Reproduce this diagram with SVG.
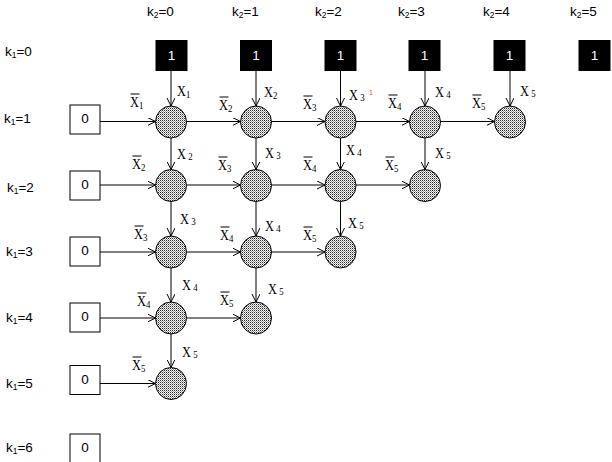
<svg xmlns="http://www.w3.org/2000/svg" width="612" height="462" viewBox="0 0 612 462">
<style>
.k{font-family:"Liberation Sans",Arial,sans-serif;font-size:13.5px;fill:#000}
.ks{font-size:8.5px}
.bx{fill:#fff;stroke:#000;stroke-width:1}
.bk{fill:#000;stroke:#000;stroke-width:1}
.t0{font-family:"Liberation Sans",Arial,sans-serif;font-size:13.5px;fill:#000;text-anchor:middle}
.t1{font-family:"Liberation Sans",Arial,sans-serif;font-size:13.5px;fill:#fff;text-anchor:middle}
.nd{fill:url(#dots);stroke:#000;stroke-width:1}
.ed{stroke:#000;stroke-width:1;fill:none;marker-end:url(#ah)}
.lb{font-family:"Liberation Serif","Times New Roman",serif;font-size:15.5px;fill:#000}
.sb{font-size:11px}
.bar{stroke:#000;stroke-width:1}
.red{font-family:"Liberation Sans",Arial,sans-serif;font-size:7px;fill:#e05050}
</style>
<defs>
<pattern id="dots" width="2" height="2" patternUnits="userSpaceOnUse">
<rect width="2" height="2" fill="#fff"/>
<rect width="1" height="1" fill="#222"/>
<rect x="1" y="1" width="1" height="1" fill="#999"/>
</pattern>
<marker id="ah" markerWidth="10" markerHeight="10" refX="8" refY="4" orient="auto" markerUnits="userSpaceOnUse">
<path d="M0,0 L8,4 L0,8" fill="none" stroke="#000" stroke-width="1"/>
</marker>
</defs>
<rect width="612" height="462" fill="#fff"/>

<g id="axis-labels">
<text class="k" x="147" y="16">k<tspan class="ks" dy="2">2</tspan><tspan dy="-2">=0</tspan></text>
<text class="k" x="232" y="16">k<tspan class="ks" dy="2">2</tspan><tspan dy="-2">=1</tspan></text>
<text class="k" x="315" y="16">k<tspan class="ks" dy="2">2</tspan><tspan dy="-2">=2</tspan></text>
<text class="k" x="398" y="16">k<tspan class="ks" dy="2">2</tspan><tspan dy="-2">=3</tspan></text>
<text class="k" x="483" y="16">k<tspan class="ks" dy="2">2</tspan><tspan dy="-2">=4</tspan></text>
<text class="k" x="570" y="16">k<tspan class="ks" dy="2">2</tspan><tspan dy="-2">=5</tspan></text>
<text class="k" x="5" y="56">k<tspan class="ks" dy="2">1</tspan><tspan dy="-2">=0</tspan></text>
<text class="k" x="4" y="123">k<tspan class="ks" dy="2">1</tspan><tspan dy="-2">=1</tspan></text>
<text class="k" x="7" y="192">k<tspan class="ks" dy="2">1</tspan><tspan dy="-2">=2</tspan></text>
<text class="k" x="6" y="256">k<tspan class="ks" dy="2">1</tspan><tspan dy="-2">=3</tspan></text>
<text class="k" x="6" y="322">k<tspan class="ks" dy="2">1</tspan><tspan dy="-2">=4</tspan></text>
<text class="k" x="6" y="388">k<tspan class="ks" dy="2">1</tspan><tspan dy="-2">=5</tspan></text>
<text class="k" x="6" y="452">k<tspan class="ks" dy="2">1</tspan><tspan dy="-2">=6</tspan></text>
</g>

<g id="src-0"><rect class="bk" x="156" y="40.5" width="31" height="30"/><text class="t1" x="171.5" y="60">1</text></g>
<g id="src-1"><rect class="bk" x="240.5" y="40.5" width="31" height="30"/><text class="t1" x="256" y="60">1</text></g>
<g id="src-2"><rect class="bk" x="325" y="40.5" width="31" height="30"/><text class="t1" x="340.5" y="60">1</text></g>
<g id="src-3"><rect class="bk" x="409" y="40.5" width="31" height="30"/><text class="t1" x="424.5" y="60">1</text></g>
<g id="src-4"><rect class="bk" x="494" y="40.5" width="31" height="30"/><text class="t1" x="509.5" y="60">1</text></g>
<g id="src-5"><rect class="bk" x="579" y="40.5" width="31" height="30"/><text class="t1" x="594.5" y="60">1</text></g>

<g id="zero-1"><rect class="bx" x="70" y="105" width="30" height="29"/><text class="t0" x="85" y="123">0</text></g>
<g id="zero-2"><rect class="bx" x="70" y="171" width="30" height="29"/><text class="t0" x="85" y="189">0</text></g>
<g id="zero-3"><rect class="bx" x="70" y="237" width="30" height="29"/><text class="t0" x="85" y="255">0</text></g>
<g id="zero-4"><rect class="bx" x="70" y="303" width="30" height="29"/><text class="t0" x="85" y="321">0</text></g>
<g id="zero-5"><rect class="bx" x="70" y="365.5" width="30" height="29"/><text class="t0" x="85" y="383.5">0</text></g>
<g id="zero-6"><rect class="bx" x="70" y="434" width="30" height="29"/><text class="t0" x="85" y="452">0</text></g>

<g id="connectors">
<path class="ed" d="M171,70.5 V106"/>
<path class="ed" d="M256,70.5 V106"/>
<path class="ed" d="M340.5,70.5 V106"/>
<path class="ed" d="M425,70.5 V106"/>
<path class="ed" d="M510,70.5 V106"/>
<path class="ed" d="M100,121.5 H155.5"/>
<path class="ed" d="M186.5,121.5 H240.5"/>
<path class="ed" d="M271.5,121.5 H325"/>
<path class="ed" d="M356,121.5 H409.5"/>
<path class="ed" d="M440.5,121.5 H494.5"/>
<path class="ed" d="M100,185 H155.5"/>
<path class="ed" d="M186.5,185 H240.5"/>
<path class="ed" d="M271.5,185 H325"/>
<path class="ed" d="M356,185 H409.5"/>
<path class="ed" d="M100,252 H155.5"/>
<path class="ed" d="M186.5,252 H240.5"/>
<path class="ed" d="M271.5,252 H325"/>
<path class="ed" d="M100,318 H155.5"/>
<path class="ed" d="M186.5,318 H240.5"/>
<path class="ed" d="M100,383.5 H155.5"/>
<path class="ed" d="M171,138 V169.5"/>
<path class="ed" d="M256,138 V169.5"/>
<path class="ed" d="M340.5,138 V169.5"/>
<path class="ed" d="M425,138 V169.5"/>
<path class="ed" d="M171,201.5 V236"/>
<path class="ed" d="M256,201.5 V236"/>
<path class="ed" d="M340.5,201.5 V236"/>
<path class="ed" d="M171,268 V302"/>
<path class="ed" d="M256,268 V302"/>
<path class="ed" d="M171,334 V367.5"/>
</g>

<g id="node-1-0"><ellipse class="nd" cx="171" cy="122" rx="15.5" ry="16"/></g>
<g id="node-1-1"><ellipse class="nd" cx="256" cy="122" rx="15.5" ry="16"/></g>
<g id="node-1-2"><ellipse class="nd" cx="340.5" cy="122" rx="15.5" ry="16"/></g>
<g id="node-1-3"><ellipse class="nd" cx="425" cy="122" rx="15.5" ry="16"/></g>
<g id="node-1-4"><ellipse class="nd" cx="510" cy="122" rx="15.5" ry="16"/></g>
<g id="node-2-0"><ellipse class="nd" cx="171" cy="185.5" rx="15.5" ry="16"/></g>
<g id="node-2-1"><ellipse class="nd" cx="256" cy="185.5" rx="15.5" ry="16"/></g>
<g id="node-2-2"><ellipse class="nd" cx="340.5" cy="185.5" rx="15.5" ry="16"/></g>
<g id="node-2-3"><ellipse class="nd" cx="425" cy="185.5" rx="15.5" ry="16"/></g>
<g id="node-3-0"><ellipse class="nd" cx="171" cy="252" rx="15.5" ry="16"/></g>
<g id="node-3-1"><ellipse class="nd" cx="256" cy="252" rx="15.5" ry="16"/></g>
<g id="node-3-2"><ellipse class="nd" cx="340.5" cy="252" rx="15.5" ry="16"/></g>
<g id="node-4-0"><ellipse class="nd" cx="171" cy="318" rx="15.5" ry="16"/></g>
<g id="node-4-1"><ellipse class="nd" cx="256" cy="318" rx="15.5" ry="16"/></g>
<g id="node-5-0"><ellipse class="nd" cx="171" cy="383.5" rx="15.5" ry="16"/></g>

<g id="edge-labels">
<text class="lb" transform="translate(177 96) scale(0.8 1)">X<tspan class="sb" dy="2">1</tspan></text>
<text class="lb" transform="translate(264 97) scale(0.8 1)">X<tspan class="sb" dy="2">2</tspan></text>
<text class="lb" transform="translate(349 100) scale(0.8 1)">X<tspan class="sb" dx="3" dy="1">3</tspan></text>
<text class="red" x="369" y="95">1</text>
<text class="lb" transform="translate(435 97) scale(0.8 1)">X<tspan class="sb" dx="3" dy="1">4</tspan></text>
<text class="lb" transform="translate(520 96) scale(0.8 1)">X<tspan class="sb" dx="3" dy="1">5</tspan></text>
<text class="lb" transform="translate(177 159) scale(0.8 1)">X<tspan class="sb" dx="3" dy="1">2</tspan></text>
<text class="lb" transform="translate(265 158) scale(0.8 1)">X<tspan class="sb" dx="3" dy="1">3</tspan></text>
<text class="lb" transform="translate(346 155) scale(0.8 1)">X<tspan class="sb" dx="3" dy="1">4</tspan></text>
<text class="lb" transform="translate(435 158) scale(0.8 1)">X<tspan class="sb" dx="3" dy="1">5</tspan></text>
<text class="lb" transform="translate(180 224) scale(0.8 1)">X<tspan class="sb" dx="3" dy="1">3</tspan></text>
<text class="lb" transform="translate(265 231) scale(0.8 1)">X<tspan class="sb" dx="3" dy="1">4</tspan></text>
<text class="lb" transform="translate(348 228) scale(0.8 1)">X<tspan class="sb" dx="3" dy="1">5</tspan></text>
<text class="lb" transform="translate(182 290) scale(0.8 1)">X<tspan class="sb" dx="3" dy="1">4</tspan></text>
<text class="lb" transform="translate(268 294) scale(0.8 1)">X<tspan class="sb" dx="3" dy="1">5</tspan></text>
<text class="lb" transform="translate(182 357) scale(0.8 1)">X<tspan class="sb" dx="3" dy="1">5</tspan></text>

<text class="lb" transform="translate(130 107) scale(0.8 1)">X<tspan class="sb" dy="2">1</tspan></text><path class="bar" d="M130.5,94 H139.5"/>
<text class="lb" transform="translate(219 110) scale(0.8 1)">X<tspan class="sb" dy="2">2</tspan></text><path class="bar" d="M219.5,97 H228.5"/>
<text class="lb" transform="translate(303 109) scale(0.8 1)">X<tspan class="sb" dy="2">3</tspan></text><path class="bar" d="M303.5,96 H312.5"/>
<text class="lb" transform="translate(388 108) scale(0.8 1)">X<tspan class="sb" dy="2">4</tspan></text><path class="bar" d="M388.5,95 H397.5"/>
<text class="lb" transform="translate(472 108) scale(0.8 1)">X<tspan class="sb" dy="2">5</tspan></text><path class="bar" d="M472.5,95 H481.5"/>
<text class="lb" transform="translate(132 169) scale(0.8 1)">X<tspan class="sb" dy="2">2</tspan></text><path class="bar" d="M132.5,156 H141.5"/>
<text class="lb" transform="translate(218 170) scale(0.8 1)">X<tspan class="sb" dy="2">3</tspan></text><path class="bar" d="M218.5,157 H227.5"/>
<text class="lb" transform="translate(303 170) scale(0.8 1)">X<tspan class="sb" dy="2">4</tspan></text><path class="bar" d="M303.5,157 H312.5"/>
<text class="lb" transform="translate(385 170) scale(0.8 1)">X<tspan class="sb" dy="2">5</tspan></text><path class="bar" d="M385.5,157 H394.5"/>
<text class="lb" transform="translate(134 239) scale(0.8 1)">X<tspan class="sb" dy="2">3</tspan></text><path class="bar" d="M134.5,226 H143.5"/>
<text class="lb" transform="translate(220 240) scale(0.8 1)">X<tspan class="sb" dy="2">4</tspan></text><path class="bar" d="M220.5,227 H229.5"/>
<text class="lb" transform="translate(303 240) scale(0.8 1)">X<tspan class="sb" dy="2">5</tspan></text><path class="bar" d="M303.5,227 H312.5"/>
<text class="lb" transform="translate(137 306) scale(0.8 1)">X<tspan class="sb" dy="2">4</tspan></text><path class="bar" d="M137.5,293 H146.5"/>
<text class="lb" transform="translate(220 305) scale(0.8 1)">X<tspan class="sb" dy="2">5</tspan></text><path class="bar" d="M220.5,292 H229.5"/>
<text class="lb" transform="translate(132 370) scale(0.8 1)">X<tspan class="sb" dy="2">5</tspan></text><path class="bar" d="M132.5,357 H141.5"/>
</g>
</svg>
